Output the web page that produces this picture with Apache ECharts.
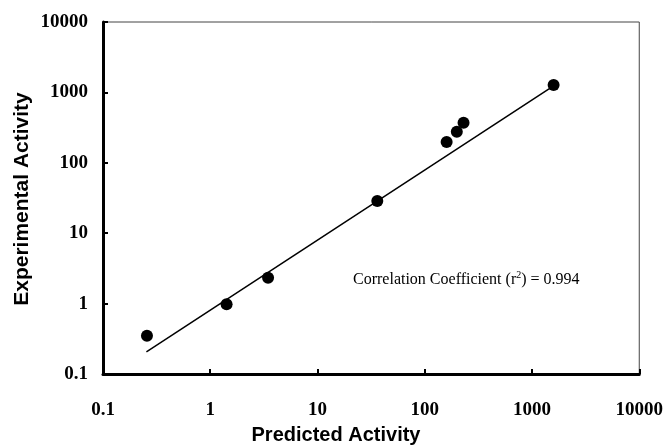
<!DOCTYPE html>
<html>
<head>
<meta charset="utf-8">
<script src="https://cdn.jsdelivr.net/npm/echarts@6/dist/echarts.min.js"></script>
<style>html,body{margin:0;padding:0;background:#fff;}#c{width:666px;height:448px;}</style>
</head>
<body>
<div id="c"></div>
<script>
var predicted = [0.257, 1.42, 3.46, 36.1, 160, 199, 230, 1590];
var experimental = [0.35, 0.98, 2.33, 28.7, 197, 277, 372, 1270];
var fitX = [0.254, 1590];
var fitY = [0.207, 1235];
var xTitle = 'Predicted Activity';
var yTitle = 'Experimental Activity';
var note = 'Correlation Coefficient ';

var chart = echarts.init(document.getElementById('c'), null, {renderer: 'canvas'});
var pts = predicted.map(function (x, i) { return [x, experimental[i]]; });
var fit = fitX.map(function (x, i) { return [x, fitY[i]]; });
function fmt(v) { return v < 1 ? String(Number(v.toFixed(1))) : String(Math.round(v)); }
var labelStyle = {color: '#000', fontFamily: 'Liberation Serif', fontWeight: 'bold', fontSize: 19};
chart.setOption({
  animation: false,
  backgroundColor: '#fff',
  grid: {left: 103, right: 26, top: 22, bottom: 74, show: true, borderColor: '#444', borderWidth: 1},
  xAxis: {
    type: 'log', logBase: 10, min: 0.1, max: 10000,
    axisLine: {lineStyle: {color: '#000', width: 3}},
    axisTick: {inside: true, length: 5, lineStyle: {color: '#000', width: 2}},
    minorTick: {show: false},
    splitLine: {show: false},
    axisLabel: Object.assign({margin: 27, formatter: fmt}, labelStyle)
  },
  yAxis: {
    type: 'log', logBase: 10, min: 0.1, max: 10000,
    axisLine: {lineStyle: {color: '#000', width: 3}},
    axisTick: {inside: true, length: 5, lineStyle: {color: '#000', width: 2}},
    minorTick: {show: false},
    splitLine: {show: false},
    axisLabel: Object.assign({margin: 15, formatter: fmt}, labelStyle)
  },
  graphic: [
    {type: 'text', x: 336, y: 435, style: {text: xTitle, fill: '#000', font: 'bold 20px "Liberation Sans"', textAlign: 'center', textVerticalAlign: 'middle'}},
    {type: 'text', x: 22, y: 199, rotation: Math.PI / 2, style: {text: yTitle, fill: '#000', font: 'bold 21px "Liberation Sans"', textAlign: 'center', textVerticalAlign: 'middle'}},
    {type: 'text', x: 353, y: 280, style: {
      rich: {
        a: {fontFamily: 'Liberation Serif', fontSize: 16, color: '#000'},
        s: {fontFamily: 'Liberation Serif', fontSize: 10, color: '#000', padding: [0, 0, 9, 0]}
      },
      text: '{a|' + note + '(r}{s|2}{a|) = 0.994}', textVerticalAlign: 'middle'
    }}
  ],
  series: [
    {type: 'line', data: fit, showSymbol: false, symbol: 'none', lineStyle: {color: '#000', width: 1.5}, z: 2},
    {type: 'scatter', data: pts, symbol: 'circle', symbolSize: 12, itemStyle: {color: '#000', opacity: 1}, z: 3}
  ]
});
</script>
</body>
</html>
